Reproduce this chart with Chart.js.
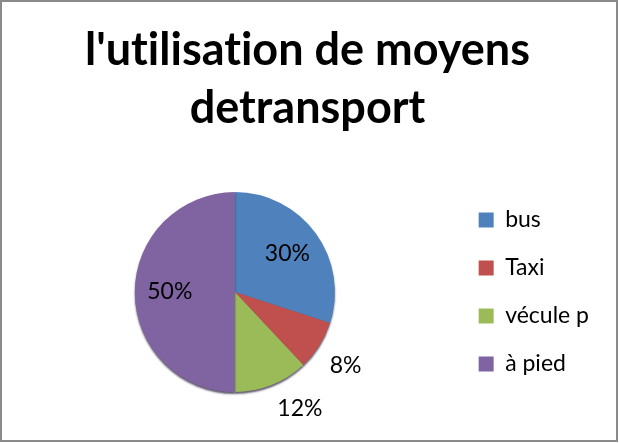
<!DOCTYPE html>
<html>
<head>
<meta charset="utf-8">
<script src="https://cdn.jsdelivr.net/npm/chart.js@4.4.0/dist/chart.umd.min.js"></script>
<style>
  html, body { margin: 0; padding: 0; background: #fff; }
  #wrap { width: 619px; height: 443px; }
</style>
</head>
<body>
<div id="wrap"><canvas id="chart" width="619" height="443"></canvas></div>
<script>
var categories = ["bus", "Taxi", "vécule p", "à pied"];
var values = [30, 8, 12, 50];
var colors = ["#4F81BD", "#C0504D", "#9BBB59", "#8064A2"];
// zero-width non-joiners keep the "ti" pairs from turning into ligatures
var titleLines = ["l'ut\u200Cilisat\u200Cion de moyens", "detransport"];

// percent labels: big slices inside, small ones just outside the rim
var pctLabels = {
    id: "pctLabels",
    afterDatasetsDraw: function(chart) {
        var ctx = chart.ctx;
        var meta = chart.getDatasetMeta(0);
        var total = values.reduce(function(a, b) { return a + b; }, 0);
        ctx.save();
        ctx.font = "23px Lato";
        ctx.fillStyle = "#000";
        meta.data.forEach(function(arc, i) {
            var p = arc.getProps(["x", "y", "startAngle", "endAngle", "outerRadius"], true);
            var mid = (p.startAngle + p.endAngle) / 2;
            var txt = Math.round(values[i] / total * 100) + "%";
            var share = values[i] / total;
            if (share > 0.2) {
                var d = p.outerRadius * 0.65;
                ctx.textAlign = "center";
                ctx.textBaseline = "middle";
                ctx.fillText(txt, p.x + Math.cos(mid) * d, p.y + Math.sin(mid) * d);
            } else {
                var d2 = p.outerRadius + 10;
                ctx.textAlign = "left";
                ctx.textBaseline = "top";
                ctx.fillText(txt, p.x + Math.cos(mid) * d2 + 2, p.y + Math.sin(mid) * d2 + 3);
            }
        });
        ctx.restore();
    }
};

// soft dark rim under the pie
var pieShadow = {
    id: "pieShadow",
    beforeDatasetDraw: function(chart) {
        var ctx = chart.ctx;
        ctx.save();
        ctx.shadowColor = "rgba(30, 20, 50, 0.7)";
        ctx.shadowOffsetY = 2;
        ctx.shadowBlur = 2;
    },
    afterDatasetDraw: function(chart) {
        chart.ctx.restore();
    }
};

// grey frame round the whole chart
var frame = {
    id: "frame",
    beforeDraw: function(chart) {
        var ctx = chart.ctx;
        ctx.save();
        ctx.fillStyle = "#fff";
        ctx.fillRect(0, 0, chart.width, chart.height);
        ctx.strokeStyle = "#8a8a8a";
        ctx.lineWidth = 2;
        ctx.strokeRect(1, 1, chart.width - 3, chart.height - 3);
        ctx.restore();
    }
};

var canvas = document.getElementById("chart");
var config = {
    type: "pie",
    data: {
        labels: categories,
        datasets: [{
            data: values,
            backgroundColor: colors,
            borderWidth: 0
        }]
    },
    options: {
        responsive: false,
        animation: false,
        radius: 100,
        layout: { padding: { left: 16, right: 20, top: 15, bottom: 11 } },
        plugins: {
            title: {
                display: true,
                text: titleLines,
                color: "#000",
                font: { family: "Lato", size: 45, weight: "bold", lineHeight: 1.29 },
                padding: { top: 6, bottom: 15 }
            },
            legend: {
                position: "right",
                fullSize: false,
                labels: {
                    color: "#000",
                    font: { family: "Lato", size: 23 },
                    boxWidth: 15,
                    boxHeight: 15,
                    padding: 25
                }
            },
            tooltip: { enabled: false }
        }
    },
    plugins: [frame, pieShadow, pctLabels]
};
var piechart = new Chart(canvas, config);
</script>
</body>
</html>
